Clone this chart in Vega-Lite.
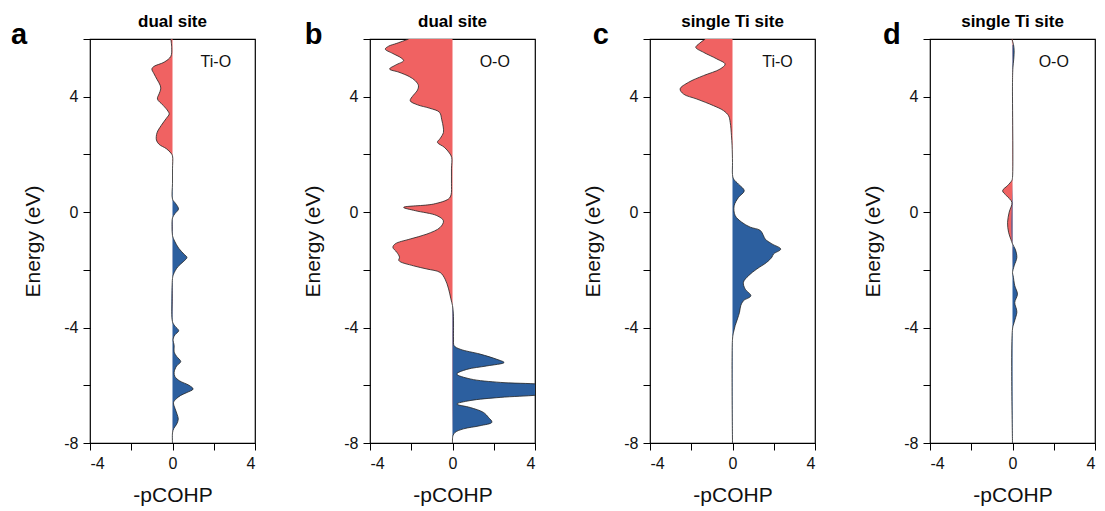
{
  "$schema": "https://vega.github.io/schema/vega-lite/v6.json",
  "padding": {"left": 10, "top": 12, "right": 0, "bottom": 0},
  "background": "white",
  "datasets": {
    "labels": [
      {"p": "a", "letter": "a", "pair": "Ti-O"},
      {"p": "b", "letter": "b", "pair": "O-O"},
      {"p": "c", "letter": "c", "pair": "Ti-O"},
      {"p": "d", "letter": "d", "pair": "O-O"}
    ],
    "cohp": [
      {"p": "a", "E": 6.0, "v": -0.08}, {"p": "a", "E": 5.7, "v": -0.04}, {"p": "a", "E": 5.4, "v": -0.08},
      {"p": "a", "E": 5.2, "v": -0.4}, {"p": "a", "E": 5.05, "v": -0.9}, {"p": "a", "E": 4.96, "v": -1.0},
      {"p": "a", "E": 4.8, "v": -0.9}, {"p": "a", "E": 4.6, "v": -0.75}, {"p": "a", "E": 4.4, "v": -0.6},
      {"p": "a", "E": 4.27, "v": -0.57}, {"p": "a", "E": 4.1, "v": -0.65}, {"p": "a", "E": 3.92, "v": -0.73},
      {"p": "a", "E": 3.7, "v": -0.45}, {"p": "a", "E": 3.5, "v": -0.22}, {"p": "a", "E": 3.4, "v": -0.16},
      {"p": "a", "E": 3.25, "v": -0.3}, {"p": "a", "E": 3.0, "v": -0.55}, {"p": "a", "E": 2.75, "v": -0.75},
      {"p": "a", "E": 2.5, "v": -0.78}, {"p": "a", "E": 2.35, "v": -0.65}, {"p": "a", "E": 2.2, "v": -0.3},
      {"p": "a", "E": 2.05, "v": -0.08}, {"p": "a", "E": 1.95, "v": 0}, {"p": "a", "E": 1.5, "v": 0},
      {"p": "a", "E": 1.0, "v": 0}, {"p": "a", "E": 0.45, "v": 0}, {"p": "a", "E": 0.3, "v": 0.15},
      {"p": "a", "E": 0.11, "v": 0.29}, {"p": "a", "E": -0.05, "v": 0.12}, {"p": "a", "E": -0.2, "v": 0},
      {"p": "a", "E": -0.5, "v": -0.02}, {"p": "a", "E": -0.82, "v": 0}, {"p": "a", "E": -1.0, "v": 0.1},
      {"p": "a", "E": -1.25, "v": 0.3}, {"p": "a", "E": -1.45, "v": 0.55}, {"p": "a", "E": -1.57, "v": 0.7},
      {"p": "a", "E": -1.7, "v": 0.55}, {"p": "a", "E": -1.9, "v": 0.25}, {"p": "a", "E": -2.15, "v": 0.05},
      {"p": "a", "E": -2.3, "v": 0}, {"p": "a", "E": -3.0, "v": -0.02}, {"p": "a", "E": -3.8, "v": 0},
      {"p": "a", "E": -3.95, "v": 0.12}, {"p": "a", "E": -4.11, "v": 0.3}, {"p": "a", "E": -4.25, "v": 0.12},
      {"p": "a", "E": -4.4, "v": 0.03}, {"p": "a", "E": -4.63, "v": 0.08}, {"p": "a", "E": -4.85, "v": 0.08},
      {"p": "a", "E": -5.0, "v": 0.2}, {"p": "a", "E": -5.18, "v": 0.4}, {"p": "a", "E": -5.33, "v": 0.2},
      {"p": "a", "E": -5.55, "v": 0.08}, {"p": "a", "E": -5.7, "v": 0.12}, {"p": "a", "E": -5.85, "v": 0.35},
      {"p": "a", "E": -6.0, "v": 0.8}, {"p": "a", "E": -6.13, "v": 1.0}, {"p": "a", "E": -6.25, "v": 0.7},
      {"p": "a", "E": -6.35, "v": 0.4}, {"p": "a", "E": -6.47, "v": 0.18}, {"p": "a", "E": -6.6, "v": 0.05},
      {"p": "a", "E": -6.8, "v": 0.12}, {"p": "a", "E": -7.0, "v": 0.22}, {"p": "a", "E": -7.17, "v": 0.28},
      {"p": "a", "E": -7.35, "v": 0.2}, {"p": "a", "E": -7.5, "v": 0.06}, {"p": "a", "E": -7.65, "v": 0},
      {"p": "a", "E": -8.0, "v": 0},

      {"p": "b", "E": 6.0, "v": -2.13}, {"p": "b", "E": 5.85, "v": -2.7}, {"p": "b", "E": 5.75, "v": -3.1},
      {"p": "b", "E": 5.65, "v": -3.26}, {"p": "b", "E": 5.5, "v": -2.9}, {"p": "b", "E": 5.35, "v": -2.5},
      {"p": "b", "E": 5.25, "v": -2.37}, {"p": "b", "E": 5.1, "v": -2.75}, {"p": "b", "E": 4.96, "v": -3.05},
      {"p": "b", "E": 4.85, "v": -2.6}, {"p": "b", "E": 4.7, "v": -2.1}, {"p": "b", "E": 4.55, "v": -1.8},
      {"p": "b", "E": 4.38, "v": -1.65}, {"p": "b", "E": 4.2, "v": -1.72}, {"p": "b", "E": 4.05, "v": -1.9},
      {"p": "b", "E": 3.86, "v": -2.05}, {"p": "b", "E": 3.72, "v": -1.7}, {"p": "b", "E": 3.6, "v": -1.1},
      {"p": "b", "E": 3.46, "v": -0.63}, {"p": "b", "E": 3.2, "v": -0.52}, {"p": "b", "E": 2.95, "v": -0.45},
      {"p": "b", "E": 2.76, "v": -0.44}, {"p": "b", "E": 2.55, "v": -0.6}, {"p": "b", "E": 2.42, "v": -0.73},
      {"p": "b", "E": 2.25, "v": -0.4}, {"p": "b", "E": 2.05, "v": -0.15}, {"p": "b", "E": 1.9, "v": -0.04},
      {"p": "b", "E": 1.5, "v": -0.05}, {"p": "b", "E": 1.0, "v": -0.05}, {"p": "b", "E": 0.6, "v": -0.07},
      {"p": "b", "E": 0.46, "v": -0.19}, {"p": "b", "E": 0.28, "v": -0.92}, {"p": "b", "E": 0.165, "v": -2.37},
      {"p": "b", "E": 0.05, "v": -1.8}, {"p": "b", "E": -0.12, "v": -0.76}, {"p": "b", "E": -0.3, "v": -0.44},
      {"p": "b", "E": -0.53, "v": -0.6}, {"p": "b", "E": -0.76, "v": -1.24}, {"p": "b", "E": -0.93, "v": -2.05},
      {"p": "b", "E": -1.1, "v": -2.78}, {"p": "b", "E": -1.22, "v": -2.89}, {"p": "b", "E": -1.39, "v": -2.7},
      {"p": "b", "E": -1.56, "v": -2.57}, {"p": "b", "E": -1.68, "v": -2.6}, {"p": "b", "E": -1.86, "v": -1.89},
      {"p": "b", "E": -1.97, "v": -1.24}, {"p": "b", "E": -2.09, "v": -0.6}, {"p": "b", "E": -2.32, "v": -0.36},
      {"p": "b", "E": -2.66, "v": -0.19}, {"p": "b", "E": -3.0, "v": -0.08}, {"p": "b", "E": -3.24, "v": 0},
      {"p": "b", "E": -3.5, "v": 0.04}, {"p": "b", "E": -4.0, "v": 0.05}, {"p": "b", "E": -4.4, "v": 0.05},
      {"p": "b", "E": -4.63, "v": 0.08}, {"p": "b", "E": -4.75, "v": 0.37}, {"p": "b", "E": -4.92, "v": 1.34},
      {"p": "b", "E": -5.1, "v": 2.15}, {"p": "b", "E": -5.21, "v": 2.5}, {"p": "b", "E": -5.33, "v": 1.66},
      {"p": "b", "E": -5.45, "v": 0.69}, {"p": "b", "E": -5.61, "v": 0.21}, {"p": "b", "E": -5.78, "v": 0.86},
      {"p": "b", "E": -5.9, "v": 2.32}, {"p": "b", "E": -5.96, "v": 4.2}, {"p": "b", "E": -6.05, "v": 5.2},
      {"p": "b", "E": -6.15, "v": 5.5}, {"p": "b", "E": -6.25, "v": 5.0}, {"p": "b", "E": -6.34, "v": 4.1},
      {"p": "b", "E": -6.42, "v": 2.31}, {"p": "b", "E": -6.53, "v": 0.85}, {"p": "b", "E": -6.65, "v": 0.21},
      {"p": "b", "E": -6.77, "v": 0.86}, {"p": "b", "E": -6.94, "v": 1.5}, {"p": "b", "E": -7.11, "v": 1.74},
      {"p": "b", "E": -7.28, "v": 1.91}, {"p": "b", "E": -7.4, "v": 1.34}, {"p": "b", "E": -7.51, "v": 0.53},
      {"p": "b", "E": -7.63, "v": 0.13}, {"p": "b", "E": -7.75, "v": 0.02}, {"p": "b", "E": -8.0, "v": 0},

      {"p": "c", "E": 6.0, "v": -1.32}, {"p": "c", "E": 5.85, "v": -1.6}, {"p": "c", "E": 5.71, "v": -1.78},
      {"p": "c", "E": 5.54, "v": -1.41}, {"p": "c", "E": 5.31, "v": -0.76}, {"p": "c", "E": 5.13, "v": -0.36},
      {"p": "c", "E": 4.96, "v": -0.6}, {"p": "c", "E": 4.73, "v": -1.41}, {"p": "c", "E": 4.5, "v": -2.13},
      {"p": "c", "E": 4.27, "v": -2.54}, {"p": "c", "E": 4.09, "v": -2.37}, {"p": "c", "E": 3.92, "v": -1.73},
      {"p": "c", "E": 3.69, "v": -0.92}, {"p": "c", "E": 3.52, "v": -0.44}, {"p": "c", "E": 3.34, "v": -0.19},
      {"p": "c", "E": 3.11, "v": -0.11}, {"p": "c", "E": 2.65, "v": -0.05}, {"p": "c", "E": 2.3, "v": -0.02},
      {"p": "c", "E": 1.72, "v": 0}, {"p": "c", "E": 1.3, "v": 0}, {"p": "c", "E": 1.15, "v": 0.05},
      {"p": "c", "E": 0.97, "v": 0.29}, {"p": "c", "E": 0.74, "v": 0.57}, {"p": "c", "E": 0.51, "v": 0.29},
      {"p": "c", "E": 0.22, "v": 0.08}, {"p": "c", "E": -0.12, "v": 0.13}, {"p": "c", "E": -0.35, "v": 0.45},
      {"p": "c", "E": -0.52, "v": 0.86}, {"p": "c", "E": -0.63, "v": 1.34}, {"p": "c", "E": -0.81, "v": 1.5},
      {"p": "c", "E": -0.93, "v": 1.58}, {"p": "c", "E": -1.1, "v": 1.91}, {"p": "c", "E": -1.28, "v": 2.34},
      {"p": "c", "E": -1.45, "v": 1.99}, {"p": "c", "E": -1.56, "v": 1.91}, {"p": "c", "E": -1.74, "v": 1.66},
      {"p": "c", "E": -1.97, "v": 1.18}, {"p": "c", "E": -2.2, "v": 0.78}, {"p": "c", "E": -2.43, "v": 0.53},
      {"p": "c", "E": -2.66, "v": 0.61}, {"p": "c", "E": -2.9, "v": 0.89}, {"p": "c", "E": -3.07, "v": 0.53},
      {"p": "c", "E": -3.24, "v": 0.4}, {"p": "c", "E": -3.47, "v": 0.34}, {"p": "c", "E": -3.7, "v": 0.24},
      {"p": "c", "E": -3.93, "v": 0.13}, {"p": "c", "E": -4.16, "v": 0.05}, {"p": "c", "E": -4.4, "v": 0},
      {"p": "c", "E": -8.0, "v": 0},

      {"p": "d", "E": 6.0, "v": -0.03}, {"p": "d", "E": 5.8, "v": 0.05}, {"p": "d", "E": 5.6, "v": 0.08},
      {"p": "d", "E": 5.3, "v": 0.06}, {"p": "d", "E": 5.0, "v": 0.02}, {"p": "d", "E": 4.5, "v": 0},
      {"p": "d", "E": 1.2, "v": 0}, {"p": "d", "E": 1.1, "v": -0.03}, {"p": "d", "E": 0.92, "v": -0.24},
      {"p": "d", "E": 0.74, "v": -0.48}, {"p": "d", "E": 0.57, "v": -0.29}, {"p": "d", "E": 0.34, "v": -0.03},
      {"p": "d", "E": 0.0, "v": -0.16}, {"p": "d", "E": -0.36, "v": -0.24}, {"p": "d", "E": -0.7, "v": -0.19},
      {"p": "d", "E": -0.94, "v": -0.08}, {"p": "d", "E": -1.1, "v": 0}, {"p": "d", "E": -1.28, "v": 0.13},
      {"p": "d", "E": -1.57, "v": 0.21}, {"p": "d", "E": -1.86, "v": 0.08}, {"p": "d", "E": -2.1, "v": 0},
      {"p": "d", "E": -2.2, "v": 0.03}, {"p": "d", "E": -2.55, "v": 0.11}, {"p": "d", "E": -2.84, "v": 0.24},
      {"p": "d", "E": -3.13, "v": 0.11}, {"p": "d", "E": -3.36, "v": 0.19}, {"p": "d", "E": -3.48, "v": 0.21},
      {"p": "d", "E": -3.82, "v": 0.08}, {"p": "d", "E": -4.05, "v": 0}, {"p": "d", "E": -8.0, "v": 0}
    ]
  },
  "spacing": 115,
  "bounds": "flush",
  "hconcat": [
    {
      "width": 165, "height": 404,
      "title": "dual site",
      "layer": [
        {"data": {"name": "cohp"}, "transform": [{"filter": "datum.p === 'a' && datum.v <= 0"}],
         "mark": {"type": "area", "orient": "horizontal", "color": "#F06262", "interpolate": "catmull-rom", "clip": true},
         "encoding": {
           "x": {"field": "v", "type": "quantitative", "stack": null, "scale": {"domain": [-4, 4], "nice": false}, "title": "-pCOHP", "axis": {"values": [-4, -2, 0, 2, 4], "labelExpr": "datum.value % 4 === 0 ? '' + datum.value : ''"}},
           "y": {"field": "E", "type": "quantitative", "scale": {"domain": [-8, 6], "nice": false, "zero": false}, "title": "Energy (eV)", "axis": {"values": [-8, -6, -4, -2, 0, 2, 4, 6], "labelExpr": "datum.value % 4 === 0 ? '' + datum.value : ''"}}
         }},
        {"data": {"name": "cohp"}, "transform": [{"filter": "datum.p === 'a' && datum.v >= 0"}],
         "mark": {"type": "area", "orient": "horizontal", "color": "#2C5F9F", "interpolate": "catmull-rom", "clip": true},
         "encoding": {"x": {"field": "v", "type": "quantitative", "stack": null}, "y": {"field": "E", "type": "quantitative"}}},
        {"data": {"name": "cohp"}, "transform": [{"filter": "datum.p === 'a'"}],
         "mark": {"type": "line", "color": "#222222", "strokeWidth": 0.8, "interpolate": "catmull-rom", "clip": true},
         "encoding": {"x": {"field": "v", "type": "quantitative"}, "y": {"field": "E", "type": "quantitative"}, "order": {"field": "E", "type": "quantitative", "sort": "descending"}}},
        {"data": {"name": "labels"}, "transform": [{"filter": "datum.p === 'a'"}],
         "mark": {"type": "text", "fontSize": 16, "align": "center", "baseline": "middle", "color": "#111111"},
         "encoding": {"x": {"datum": 2.1}, "y": {"datum": 5.2}, "text": {"field": "pair"}}},
        {"data": {"name": "labels"}, "transform": [{"filter": "datum.p === 'a'"}],
         "mark": {"type": "text", "fontSize": 29, "fontWeight": "bold", "align": "left", "baseline": "alphabetic", "color": "#000000"},
         "encoding": {"x": {"datum": -7.83}, "y": {"datum": 5.84}, "text": {"field": "letter"}}}
      ]
    },
    {
      "width": 165, "height": 404,
      "title": "dual site",
      "layer": [
        {"data": {"name": "cohp"}, "transform": [{"filter": "datum.p === 'b' && datum.v <= 0"}],
         "mark": {"type": "area", "orient": "horizontal", "color": "#F06262", "interpolate": "catmull-rom", "clip": true},
         "encoding": {
           "x": {"field": "v", "type": "quantitative", "stack": null, "scale": {"domain": [-4, 4], "nice": false}, "title": "-pCOHP", "axis": {"values": [-4, -2, 0, 2, 4], "labelExpr": "datum.value % 4 === 0 ? '' + datum.value : ''"}},
           "y": {"field": "E", "type": "quantitative", "scale": {"domain": [-8, 6], "nice": false, "zero": false}, "title": "Energy (eV)", "axis": {"values": [-8, -6, -4, -2, 0, 2, 4, 6], "labelExpr": "datum.value % 4 === 0 ? '' + datum.value : ''"}}
         }},
        {"data": {"name": "cohp"}, "transform": [{"filter": "datum.p === 'b' && datum.v >= 0"}],
         "mark": {"type": "area", "orient": "horizontal", "color": "#2C5F9F", "interpolate": "catmull-rom", "clip": true},
         "encoding": {"x": {"field": "v", "type": "quantitative", "stack": null}, "y": {"field": "E", "type": "quantitative"}}},
        {"data": {"name": "cohp"}, "transform": [{"filter": "datum.p === 'b'"}],
         "mark": {"type": "line", "color": "#222222", "strokeWidth": 0.8, "interpolate": "catmull-rom", "clip": true},
         "encoding": {"x": {"field": "v", "type": "quantitative"}, "y": {"field": "E", "type": "quantitative"}, "order": {"field": "E", "type": "quantitative", "sort": "descending"}}},
        {"data": {"name": "labels"}, "transform": [{"filter": "datum.p === 'b'"}],
         "mark": {"type": "text", "fontSize": 16, "align": "center", "baseline": "middle", "color": "#111111"},
         "encoding": {"x": {"datum": 2.05}, "y": {"datum": 5.2}, "text": {"field": "pair"}}},
        {"data": {"name": "labels"}, "transform": [{"filter": "datum.p === 'b'"}],
         "mark": {"type": "text", "fontSize": 29, "fontWeight": "bold", "align": "left", "baseline": "alphabetic", "color": "#000000"},
         "encoding": {"x": {"datum": -7.16}, "y": {"datum": 5.84}, "text": {"field": "letter"}}}
      ]
    },
    {
      "width": 165, "height": 404,
      "title": "single Ti site",
      "layer": [
        {"data": {"name": "cohp"}, "transform": [{"filter": "datum.p === 'c' && datum.v <= 0"}],
         "mark": {"type": "area", "orient": "horizontal", "color": "#F06262", "interpolate": "catmull-rom", "clip": true},
         "encoding": {
           "x": {"field": "v", "type": "quantitative", "stack": null, "scale": {"domain": [-4, 4], "nice": false}, "title": "-pCOHP", "axis": {"values": [-4, -2, 0, 2, 4], "labelExpr": "datum.value % 4 === 0 ? '' + datum.value : ''"}},
           "y": {"field": "E", "type": "quantitative", "scale": {"domain": [-8, 6], "nice": false, "zero": false}, "title": "Energy (eV)", "axis": {"values": [-8, -6, -4, -2, 0, 2, 4, 6], "labelExpr": "datum.value % 4 === 0 ? '' + datum.value : ''"}}
         }},
        {"data": {"name": "cohp"}, "transform": [{"filter": "datum.p === 'c' && datum.v >= 0"}],
         "mark": {"type": "area", "orient": "horizontal", "color": "#2C5F9F", "interpolate": "catmull-rom", "clip": true},
         "encoding": {"x": {"field": "v", "type": "quantitative", "stack": null}, "y": {"field": "E", "type": "quantitative"}}},
        {"data": {"name": "cohp"}, "transform": [{"filter": "datum.p === 'c'"}],
         "mark": {"type": "line", "color": "#222222", "strokeWidth": 0.8, "interpolate": "catmull-rom", "clip": true},
         "encoding": {"x": {"field": "v", "type": "quantitative"}, "y": {"field": "E", "type": "quantitative"}, "order": {"field": "E", "type": "quantitative", "sort": "descending"}}},
        {"data": {"name": "labels"}, "transform": [{"filter": "datum.p === 'c'"}],
         "mark": {"type": "text", "fontSize": 16, "align": "center", "baseline": "middle", "color": "#111111"},
         "encoding": {"x": {"datum": 2.18}, "y": {"datum": 5.2}, "text": {"field": "pair"}}},
        {"data": {"name": "labels"}, "transform": [{"filter": "datum.p === 'c'"}],
         "mark": {"type": "text", "fontSize": 29, "fontWeight": "bold", "align": "left", "baseline": "alphabetic", "color": "#000000"},
         "encoding": {"x": {"datum": -6.77}, "y": {"datum": 5.84}, "text": {"field": "letter"}}}
      ]
    },
    {
      "width": 165, "height": 404,
      "title": "single Ti site",
      "layer": [
        {"data": {"name": "cohp"}, "transform": [{"filter": "datum.p === 'd' && datum.v <= 0"}],
         "mark": {"type": "area", "orient": "horizontal", "color": "#F06262", "interpolate": "catmull-rom", "clip": true},
         "encoding": {
           "x": {"field": "v", "type": "quantitative", "stack": null, "scale": {"domain": [-4, 4], "nice": false}, "title": "-pCOHP", "axis": {"values": [-4, -2, 0, 2, 4], "labelExpr": "datum.value % 4 === 0 ? '' + datum.value : ''"}},
           "y": {"field": "E", "type": "quantitative", "scale": {"domain": [-8, 6], "nice": false, "zero": false}, "title": "Energy (eV)", "axis": {"values": [-8, -6, -4, -2, 0, 2, 4, 6], "labelExpr": "datum.value % 4 === 0 ? '' + datum.value : ''"}}
         }},
        {"data": {"name": "cohp"}, "transform": [{"filter": "datum.p === 'd' && datum.v >= 0"}],
         "mark": {"type": "area", "orient": "horizontal", "color": "#2C5F9F", "interpolate": "catmull-rom", "clip": true},
         "encoding": {"x": {"field": "v", "type": "quantitative", "stack": null}, "y": {"field": "E", "type": "quantitative"}}},
        {"data": {"name": "cohp"}, "transform": [{"filter": "datum.p === 'd'"}],
         "mark": {"type": "line", "color": "#222222", "strokeWidth": 0.8, "interpolate": "catmull-rom", "clip": true},
         "encoding": {"x": {"field": "v", "type": "quantitative"}, "y": {"field": "E", "type": "quantitative"}, "order": {"field": "E", "type": "quantitative", "sort": "descending"}}},
        {"data": {"name": "labels"}, "transform": [{"filter": "datum.p === 'd'"}],
         "mark": {"type": "text", "fontSize": 16, "align": "center", "baseline": "middle", "color": "#111111"},
         "encoding": {"x": {"datum": 2.0}, "y": {"datum": 5.2}, "text": {"field": "pair"}}},
        {"data": {"name": "labels"}, "transform": [{"filter": "datum.p === 'd'"}],
         "mark": {"type": "text", "fontSize": 29, "fontWeight": "bold", "align": "left", "baseline": "alphabetic", "color": "#000000"},
         "encoding": {"x": {"datum": -6.28}, "y": {"datum": 5.84}, "text": {"field": "letter"}}}
      ]
    }
  ],
  "config": {
    "font": "Liberation Sans",
    "view": {"stroke": "#000000", "strokeWidth": 1.2},
    "axis": {
      "grid": false, "domain": false,
      "tickColor": "#000000", "tickSize": 7, "tickWidth": 1,
      "labelFontSize": 16, "labelColor": "#111111", "labelPadding": 5, "labelFont": "Liberation Sans",
      "titleFontSize": 21, "titleFontWeight": "normal", "titleColor": "#111111", "titleFont": "Liberation Sans"
    },
    "axisX": {"titlePadding": 13},
    "axisY": {"titlePadding": 20},
    "title": {"fontSize": 17, "fontWeight": "bold", "offset": -10, "frame": "group", "color": "#000000", "font": "Liberation Sans"}
  }
}
